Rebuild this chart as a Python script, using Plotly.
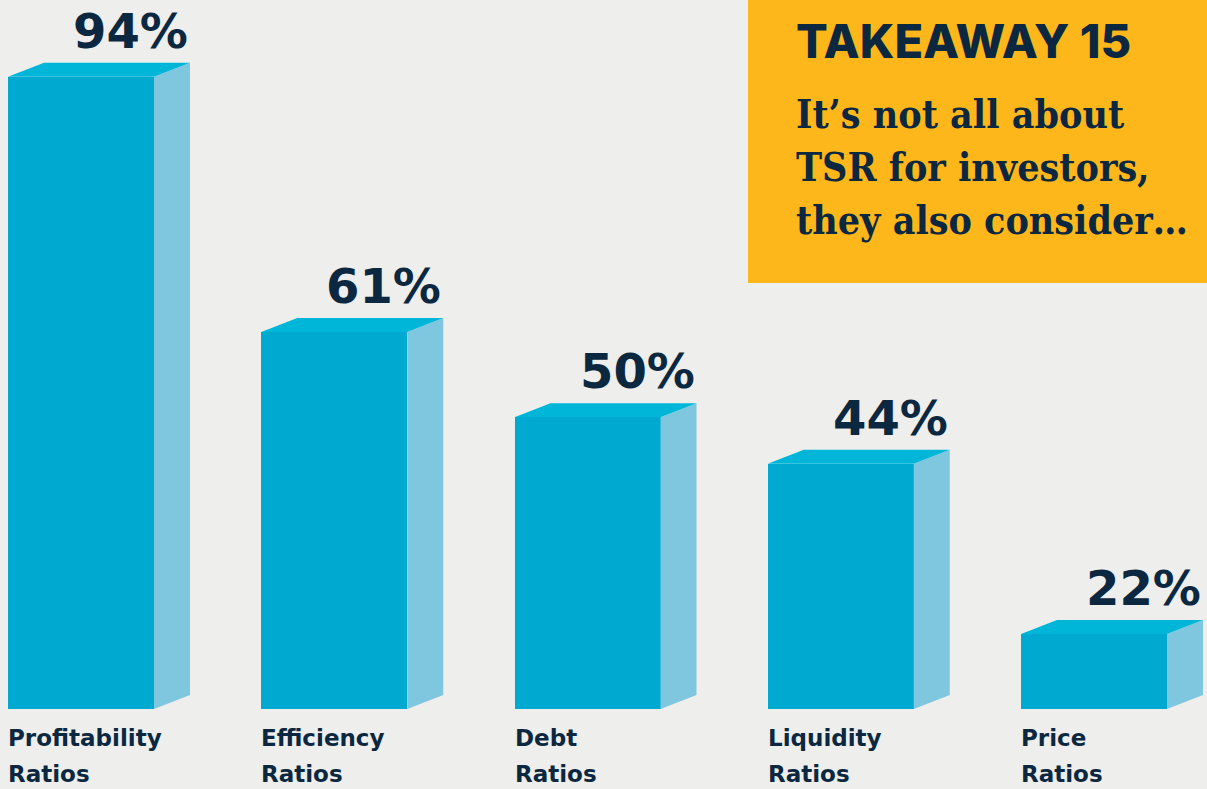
import plotly.graph_objects as go

categories = ["Profitability Ratios", "Efficiency Ratios", "Debt Ratios", "Liquidity Ratios", "Price Ratios"]
label_line1 = ["Profitability", "Efficiency", "Debt", "Liquidity", "Price"]
label_line2 = ["Ratios", "Ratios", "Ratios", "Ratios", "Ratios"]
values = [94, 61, 50, 44, 22]
value_labels = ["94%", "61%", "50%", "44%", "22%"]

title_text = "TAKEAWAY 15"
subtitle_lines = ["It\u2019s not all about", "TSR for investors,", "they also consider\u2026"]

BG = "#EEEEEC"
FRONT = "#00A9D0"
TOP = "#00B6D8"
SIDE = "#7EC7DF"
NAVY = "#0B2840"
YELLOW = "#FDB71A"

W, H = 1207, 789
PLOT_B = 80
plot_h = H - PLOT_B
y0 = 12.3
px_per_unit = 7.74
y1 = y0 + plot_h / px_per_unit
spacing = 253.25
x_lo = -81 / spacing
x_hi = (W - 81) / spacing

hw = 73 / spacing          # half bar width (category units)
dx = 36 / spacing          # depth offset x
dy = 14 / px_per_unit      # depth offset y

xs = list(range(len(values)))

fig = go.Figure()

fig.add_trace(go.Bar(
    x=xs, y=values, width=2 * hw, marker=dict(color=FRONT, line=dict(width=0)),
    hoverinfo="skip", showlegend=False,
))

side_x, side_y, top_x, top_y = [], [], [], []
for x, v in zip(xs, values):
    xr = x + hw
    xl = x - hw
    side_x += [xr, xr + dx, xr + dx, xr, xr, None]
    side_y += [y0, y0 + dy, v + dy, v, y0, None]
    top_x += [xl, xl + dx, xr + dx, xr, xl, None]
    top_y += [v, v + dy, v + dy, v, v, None]

fig.add_trace(go.Scatter(x=side_x, y=side_y, mode="lines", fill="toself", fillcolor=SIDE,
                         line=dict(width=0, color=SIDE), hoverinfo="skip", showlegend=False))
fig.add_trace(go.Scatter(x=top_x, y=top_y, mode="lines", fill="toself", fillcolor=TOP,
                         line=dict(width=0, color=TOP), hoverinfo="skip", showlegend=False))

SANS = "DejaVu Sans"
annotations = []
for x, v, t in zip(xs, values, value_labels):
    annotations.append(dict(
        x=x + hw + dx, y=v + dy, xref="x", yref="y", text=t, showarrow=False,
        xanchor="right", yanchor="middle", yshift=32, xshift=0,
        font=dict(family=SANS, size=48, color=NAVY, weight=700),
    ))
for x, l1, l2 in zip(xs, label_line1, label_line2):
    annotations.append(dict(
        x=x - hw, y=0, xref="x", yref="paper", text=l1, showarrow=False,
        xanchor="left", yanchor="middle", yshift=-29, xshift=-2,
        font=dict(family=SANS, size=23, color=NAVY, weight=700),
    ))
    annotations.append(dict(
        x=x - hw, y=0, xref="x", yref="paper", text=l2, showarrow=False,
        xanchor="left", yanchor="middle", yshift=-65, xshift=-2,
        font=dict(family=SANS, size=23, color=NAVY, weight=700),
    ))

def py(pix):
    return (plot_h - pix) / plot_h

annotations.append(dict(
    x=797 / W, y=py(40), xref="paper", yref="paper", text=title_text, showarrow=False,
    xanchor="left", yanchor="middle", xshift=-3,
    font=dict(family="Inter", size=47, color=NAVY, weight=800),
))
for i, line in enumerate(subtitle_lines):
    annotations.append(dict(
        x=797 / W, y=py(114 + 53 * i), xref="paper", yref="paper", text=line, showarrow=False,
        xanchor="left", yanchor="middle", xshift=-3,
        font=dict(family="DejaVu Serif Condensed, DejaVu Serif", size=39, color=NAVY, weight=700),
    ))

fig.update_layout(
    width=W, height=H,
    margin=dict(l=0, r=0, t=0, b=PLOT_B, pad=0),
    paper_bgcolor=BG, plot_bgcolor=BG,
    xaxis=dict(range=[x_lo, x_hi], visible=False, fixedrange=True),
    yaxis=dict(range=[y0, y1], visible=False, fixedrange=True),
    bargap=0,
    annotations=annotations,
    shapes=[dict(type="rect", xref="paper", yref="paper", x0=748 / W, x1=1.0,
                 y0=py(283), y1=py(0) + 0.05, fillcolor=YELLOW, line=dict(width=0), layer="below")],
)

fig.write_html(
    "out.html",
    config={"displayModeBar": False},
    post_script="document.body.style.margin='0';document.body.style.background='" + BG + "';",
)
